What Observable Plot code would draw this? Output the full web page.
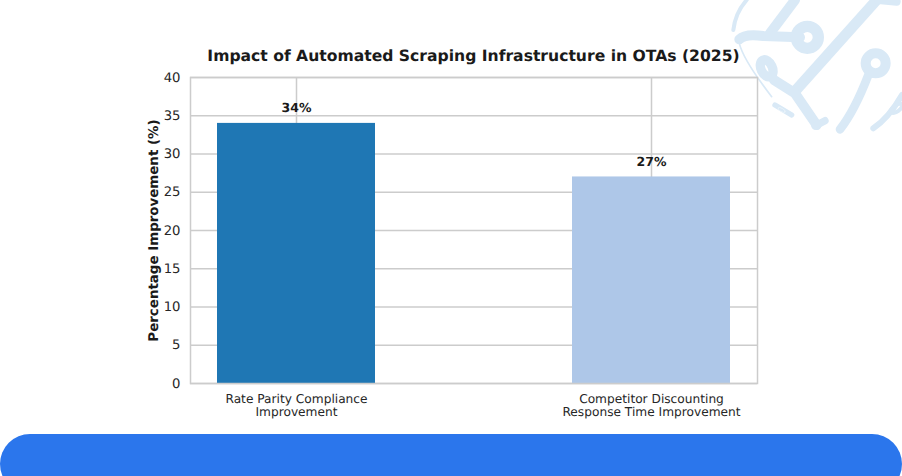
<!DOCTYPE html>
<html>
<head>
<meta charset="utf-8">
<script src="https://cdn.jsdelivr.net/npm/d3@7"></script>
<script src="https://cdn.jsdelivr.net/npm/@observablehq/plot@0.6"></script>
<style>
html,body{margin:0;padding:0;background:#fff;overflow:hidden}
#stage{position:relative;width:902px;height:476px;overflow:hidden;font-family:"DejaVu Sans",sans-serif;text-rendering:geometricPrecision}
#stage svg text{text-rendering:geometricPrecision}
#deco,#chart,#footer,#title{position:absolute}
#deco{left:700px;top:0;width:202px;height:140px}
#chart{left:0;top:0}
#footer{left:0;top:434px;width:902px;height:60px;background:#2b76ec;border-radius:30px}
#title{left:0;width:947px;top:45.5px;text-align:center;font-size:15.6px;font-weight:bold;color:#1a1a1a;line-height:20px}
</style>
</head>
<body>
<div id="stage">
<svg id="deco" viewBox="0 0 606 420" fill="none" stroke="#d9e9f6" stroke-linecap="round" stroke-linejoin="round">
  <path d="M140 0C118 25 104 55 100 90" stroke-width="12"/>
  <path d="M285 0L210 100" stroke-width="30"/>
  <path d="M118 118Q135 100 190 108L300 112" stroke-width="30"/>
  <circle cx="322" cy="112" r="33" stroke-width="34"/>
  <path d="M530 0L290 268" stroke-width="32"/>
  <path d="M535 0L590 5" stroke-width="24"/>
  <path d="M118 130Q130 180 215 290" stroke-width="5"/>
  <ellipse cx="200" cy="205" rx="17" ry="27" transform="rotate(-25 200 205)" stroke-width="28"/>
  <path d="M222 240L285 280L350 375" stroke-width="30"/>
  <path d="M345 378L375 362" stroke-width="22"/>
  <circle cx="527" cy="190" r="30" stroke-width="30"/>
  <path d="M505 225C480 290 450 350 420 388" stroke-width="26"/>
  <path d="M225 315L275 345" stroke-width="16"/>
  <ellipse cx="245" cy="330" rx="12" ry="5" transform="rotate(30 245 330)" stroke="#eef5fb" stroke-width="2"/>
  <path d="M606 285C580 330 550 365 520 385" stroke-width="18"/>
  <ellipse cx="590" cy="325" rx="20" ry="9" transform="rotate(-35 590 325)" stroke-width="12"/>
</svg>
<div id="chart"></div>
<div id="title">Impact of Automated Scraping Infrastructure in OTAs (2025)</div>
<div id="footer"></div>
</div>
<script>
const categories = ["Rate Parity Compliance\nImprovement", "Competitor Discounting\nResponse Time Improvement"];
const improvement = [34, 27];
const barColors = ["#1f77b4", "#aec7e8"];
const yTicks = [0, 5, 10, 15, 20, 25, 30, 35, 40];
const yLabel = "Percentage Improvement (%)";
const table = categories.map((category, i) => ({category, value: improvement[i], label: improvement[i] + "%"}));
const gridColor = "#cccccc";

const plot = Plot.plot({
  width: 902,
  height: 476,
  marginLeft: 190,
  marginRight: 145,
  marginTop: 77,
  marginBottom: 93,
  style: {background: "transparent", fontFamily: "'DejaVu Sans', sans-serif", overflow: "visible"},
  x: {domain: categories, paddingInner: 0.555, paddingOuter: 0.076, align: 0.5, label: null},
  y: {domain: [0, 40], label: null},
  color: {domain: categories, range: barColors},
  marks: [
    Plot.gridX(categories, {stroke: gridColor, strokeOpacity: 1, strokeWidth: 1.5}),
    Plot.gridY(yTicks, {stroke: gridColor, strokeOpacity: 1, strokeWidth: 1.5}),
    Plot.barY(table, {x: "category", y: "value", fill: "category"}),
    Plot.frame({stroke: gridColor, strokeWidth: 1.5}),
    Plot.axisY({ticks: yTicks, tickSize: 0, tickPadding: 10, fontSize: 13.2, fill: "#262626", label: null}),
    Plot.axisX({tickSize: 0, tickPadding: 10, fontSize: 12.2, lineHeight: 1.1, fill: "#262626", label: null}),
    Plot.text([yLabel], {frameAnchor: "left", textAnchor: "middle", rotate: -90, dx: -37, fontSize: 13.4, fontWeight: "bold", fill: "#1a1a1a"}),
    Plot.text(table, {x: "category", y: "value", text: "label", dy: -15, fontSize: 12.5, fontWeight: "bold", fill: "#1a1a1a"})
  ]
});
document.getElementById("chart").appendChild(plot);
</script>
</body>
</html>
